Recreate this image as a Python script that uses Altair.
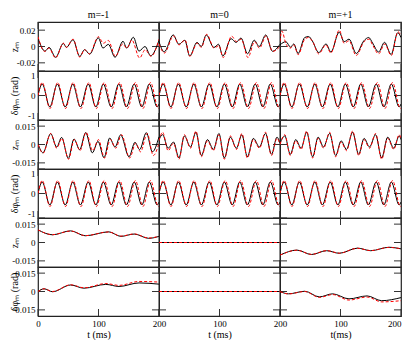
import altair as alt
import pandas as pd

# ---------------- data ----------------
col_titles = ["m=-1", "m=0", "m=+1"]
x_titles = ["t (ms)", "t (ms)", "t(ms)"]

# Row 1 : z_m
z1_c1_bt = [0, 11.6, 18.2, 29.2, 41.9, 46.8, 57.9, 68.9, 77.1, 85.4, 99.7, 107.4, 116.3, 127.3, 140.5, 146.6, 157.6, 166.9, 176.9, 186.2, 200]
z1_c1_bv = [0.0102, -0.0057, -0.0011, -0.0132, 0.0038, -0.0011, 0.0083, -0.0121, -0.0038, -0.0094, 0.0106, -0.0019, 0.0026, -0.0132, 0.0064, -0.0019, 0.0113, -0.0057, 0.0, -0.0113, 0.0075]
z1_c1_rt = [0, 11, 18, 29, 42, 47, 58, 69, 77, 85, 100, 108, 116, 128, 140, 147, 155, 168, 177, 187, 200]
z1_c1_rv = [0.012, -0.006, -0.002, -0.014, 0.004, -0.001, 0.009, -0.013, -0.004, -0.009, 0.012, 0.004, 0.0075, -0.012, 0.003, -0.002, 0.008, -0.014, -0.004, -0.012, 0.009]

z1_c2_bt = [0, 8.7, 23.5, 32.8, 42.6, 50.8, 62.8, 70.0, 78.1, 90.7, 98.4, 105.5, 119.1, 127.3, 135.5, 146.4, 157.4, 165.6, 176.5, 187.4, 200]
z1_c2_bv = [0.0058, -0.0065, 0.0142, 0.0027, 0.0077, -0.0116, 0.005, 0.0, 0.0142, -0.0012, 0.0027, -0.0116, 0.0096, 0.005, 0.0104, -0.0089, 0.0077, 0.0, 0.0142, -0.0058, 0.0027]
z1_c2_rt = [0, 9, 24, 33, 43, 51, 63, 70, 79, 91, 99, 106, 120, 128, 136, 147, 158, 166, 177, 188, 200]
z1_c2_rv = [0.003, -0.008, 0.013, 0.002, 0.008, -0.012, 0.004, -0.001, 0.015, -0.002, 0.001, -0.0135, 0.0127, 0.006, 0.009, -0.0135, 0.006, -0.002, 0.013, -0.006, 0.0]

z1_c3_bt = [0, 9.8, 17.4, 22.8, 29.9, 40.8, 47.3, 53.3, 64.1, 76.1, 84.2, 97.8, 106, 114.1, 126.1, 138.6, 146.7, 153, 163, 172.8, 183.7, 194.6, 200]
z1_c3_bv = [0.002, 0.0059, -0.0008, 0.0031, -0.0086, 0.011, 0.0122, 0.007, -0.0074, 0.0031, -0.0067, 0.0176, 0.0059, 0.009, -0.0086, 0.007, 0.011, 0.0043, -0.0067, 0.0051, -0.0098, 0.0169, 0.011]
z1_c3_rt = [0, 3, 10, 17, 23, 30, 41, 47, 54, 64, 76, 84, 98, 106, 114, 126, 139, 147, 153, 163, 173, 184, 195, 200]
z1_c3_rv = [0.006, 0.019, 0.003, -0.002, 0.002, -0.01, 0.009, 0.011, 0.006, -0.009, 0.002, -0.008, 0.02, 0.004, 0.007, -0.011, 0.006, 0.009, 0.002, -0.009, 0.003, -0.011, 0.018, 0.013]

# Rows 2 and 4 : delta phi_m (rad)
phi_bt = [0, 7, 19.5, 32, 45, 57.5, 70, 83, 95.5, 108, 121, 133.5, 146, 159, 171.5, 184, 197, 200]
phi_bv = [0, 0.47, -0.47, 0.47, -0.47, 0.47, -0.47, 0.47, -0.47, 0.47, -0.47, 0.47, -0.47, 0.47, -0.47, 0.47, -0.47, -0.35]
phi_rt = [0, 7, 19.8, 32.5, 45.5, 58, 71, 84, 96.5, 109.5, 122.5, 135, 148, 161, 173.5, 186, 199, 200]
phi_rv = [0, 0.53, -0.53, 0.53, -0.53, 0.53, -0.53, 0.53, -0.53, 0.53, -0.53, 0.53, -0.53, 0.53, -0.53, 0.53, -0.53, -0.5]

# Row 3 : z_m
z3_c1_bt = [0, 8.3, 20.9, 30.9, 39.1, 50.1, 59.5, 68.9, 78.8, 89.8, 99.2, 109.1, 118.5, 127.3, 136.6, 150.4, 160.3, 168, 179.1, 189, 200]
z3_c1_bv = [0.0005, -0.0068, 0.0089, -0.0021, 0.0058, -0.0113, 0.0045, -0.0042, 0.0097, -0.0068, 0.0026, -0.0108, 0.0053, -0.0021, 0.0079, -0.01, 0.0018, -0.0042, 0.0097, -0.006, 0.0063]
z3_c1_rt = [0, 8.5, 21, 31, 39.5, 50.5, 60, 69.5, 79.5, 90.5, 100, 110, 119.5, 128.5, 138, 151.5, 161.5, 169.5, 180.5, 190.5, 200]
z3_c1_rv = [0, -0.007, 0.009, -0.003, 0.005, -0.012, 0.004, -0.005, 0.01, -0.005, 0.004, -0.011, 0.004, -0.003, 0.008, -0.011, 0.001, -0.006, 0.009, -0.009, 0.001]

z3_c2_bt = [0, 6, 15, 24, 33, 42, 52, 61, 70, 80, 90, 99, 108, 118, 128, 137, 146, 156, 166, 176, 186, 195, 200]
z3_c2_bv = [0.004, 0.008, -0.003, 0.002, -0.011, 0.007, -0.002, 0.01, -0.009, 0.004, -0.004, 0.009, -0.011, 0.006, -0.003, 0.008, -0.01, 0.005, -0.002, 0.009, -0.008, 0.006, 0.001]
z3_c2_rt = [0, 6, 15, 24, 33, 42, 52, 61, 70, 80, 90, 99, 108, 118, 128, 137, 146, 156, 166, 176, 186, 195, 200]
z3_c2_rv = [0.003, 0.01, -0.005, 0.001, -0.012, 0.008, -0.003, 0.011, -0.01, 0.003, -0.005, 0.008, -0.012, 0.007, -0.004, 0.009, -0.011, 0.004, -0.003, 0.01, -0.009, 0.005, 0.0]

z3_c3_bt = [0, 8, 17, 26, 35, 44, 54, 63, 72, 82, 92, 101, 110, 120, 130, 139, 148, 158, 168, 178, 188, 197, 200]
z3_c3_bv = [0.001, 0.007, -0.008, 0.004, -0.003, 0.01, -0.01, 0.006, -0.002, 0.009, -0.009, 0.003, -0.004, 0.01, -0.008, 0.005, -0.002, 0.008, -0.011, 0.006, -0.003, 0.007, 0.004]
z3_c3_rt = [0, 8, 17, 26, 35, 44, 54, 63, 72, 82, 92, 101, 110, 120, 130, 139, 148, 158, 168, 178, 188, 197, 200]
z3_c3_rv = [0.0, 0.008, -0.009, 0.003, -0.004, 0.011, -0.011, 0.005, -0.003, 0.01, -0.01, 0.002, -0.005, 0.011, -0.009, 0.004, -0.003, 0.009, -0.012, 0.005, -0.004, 0.008, 0.005]

# Row 5 : z_m (slow)
z5_c1_bt = [0, 24, 54, 78, 117, 137, 159, 183, 200]
z5_c1_bv = [0.0103, 0.0063, 0.0095, 0.0055, 0.0087, 0.005, 0.0069, 0.0034, 0.005]
z5_c1_rv = [0.0103, 0.0064, 0.0094, 0.0056, 0.0086, 0.0052, 0.007, 0.0036, 0.0051]
z5_c2_t = [0, 200]
z5_c2_v = [0, 0]
z5_c3_bt = [0, 28, 52, 77, 98, 128, 150, 180, 200]
z5_c3_bv = [-0.0103, -0.0062, -0.0098, -0.0067, -0.0088, -0.0046, -0.0067, -0.0039, -0.0052]
z5_c3_rv = [-0.0103, -0.0063, -0.0097, -0.0066, -0.0087, -0.0047, -0.0066, -0.004, -0.0051]

# Row 6 : delta phi_m (rad) (slow)
p6_c1_bt = [0, 10, 24, 54, 76, 112, 134, 167, 200]
p6_c1_bv = [0, 0.0022, -0.0002, 0.0053, 0.0027, 0.0058, 0.0041, 0.007, 0.006]
p6_c1_rv = [0, 0.0022, 0.0, 0.0055, 0.003, 0.0065, 0.005, 0.0082, 0.0077]
p6_c2_t = [0, 200]
p6_c2_v = [0, 0]
p6_c3_bt = [0, 14, 41, 65, 87, 114, 144, 168, 200]
p6_c3_bv = [0, -0.0019, 0.0002, -0.0044, -0.0019, -0.006, -0.0036, -0.0075, -0.005]
p6_c3_rv = [0, -0.002, 0.0, -0.0048, -0.0025, -0.007, -0.0045, -0.0085, -0.0075]

row_titles = ["zₘ", "δφₘ (rad)", "zₘ", "δφₘ (rad)", "zₘ", "δφₘ (rad)"]
row_domains = [[-0.03, 0.03], [-1, 1], [-0.02, 0.02], [-1, 1], [-0.02, 0.02], [-0.02, 0.02]]
row_ticks = [[-0.02, 0, 0.02], [-1, 0, 1], [-0.015, 0, 0.015], [-1, 0, 1], [-0.015, 0, 0.015], [-0.015, 0, 0.015]]
t_ticks = [0, 100, 200]

panels = [
    [(z1_c1_bt, z1_c1_bv, z1_c1_rt, z1_c1_rv), (z1_c2_bt, z1_c2_bv, z1_c2_rt, z1_c2_rv), (z1_c3_bt, z1_c3_bv, z1_c3_rt, z1_c3_rv)],
    [(phi_bt, phi_bv, phi_rt, phi_rv)] * 3,
    [(z3_c1_bt, z3_c1_bv, z3_c1_rt, z3_c1_rv), (z3_c2_bt, z3_c2_bv, z3_c2_rt, z3_c2_rv), (z3_c3_bt, z3_c3_bv, z3_c3_rt, z3_c3_rv)],
    [(phi_bt, phi_bv, phi_rt, phi_rv)] * 3,
    [(z5_c1_bt, z5_c1_bv, z5_c1_bt, z5_c1_rv), (z5_c2_t, z5_c2_v, z5_c2_t, z5_c2_v), (z5_c3_bt, z5_c3_bv, z5_c3_bt, z5_c3_rv)],
    [(p6_c1_bt, p6_c1_bv, p6_c1_bt, p6_c1_rv), (p6_c2_t, p6_c2_v, p6_c2_t, p6_c2_v), (p6_c3_bt, p6_c3_bv, p6_c3_bt, p6_c3_rv)],
]

# ---------------- chart ----------------
W, H = 121, 49
TICK = 7
FONT = "Liberation Serif, Times New Roman, serif"
TICK_COLOR = "#333333"


def panel(r, c):
    bt, bv, rt, rv = panels[r][c]
    last = r == len(panels) - 1
    if last:
        xaxis = alt.Axis(values=t_ticks if c == 0 else t_ticks[1:], ticks=False, domain=False, grid=False,
                         title=x_titles[c], labelPadding=3, titlePadding=1, labelFlush=(c == 2),
                         labelOverlap=False)
    else:
        xaxis = None
    if c == 0:
        yaxis = alt.Axis(values=row_ticks[r], ticks=False, domain=False, grid=False,
                         title=row_titles[r], labelPadding=3, labelFlush=True, labelOverlap=False,
                         labelExpr="toString(datum.value)",
                         titleX=-19, titleY=H / 2, titleAngle=270, titleAlign="center",
                         titleBaseline="bottom")
    else:
        yaxis = None
    xe = alt.X("t:Q", scale=alt.Scale(domain=[0, 200], nice=False, zero=False), axis=xaxis)
    ye = alt.Y("v:Q", scale=alt.Scale(domain=row_domains[r], nice=False, zero=False), axis=yaxis)

    dfb = pd.DataFrame({"t": bt, "v": bv})
    dfr = pd.DataFrame({"t": rt, "v": rv})
    black = alt.Chart(dfb).mark_line(color="black", strokeWidth=1, interpolate="monotone", clip=True).encode(x=xe, y=ye)
    red = alt.Chart(dfr).mark_line(color="#ff0000", strokeWidth=1, strokeDash=[3, 2], interpolate="monotone", clip=True).encode(x=xe, y=ye)

    dy = pd.DataFrame({"v": row_ticks[r]})
    dx = pd.DataFrame({"t": t_ticks})
    ytl = alt.Chart(dy).mark_rule(color=TICK_COLOR, strokeWidth=1).encode(y=ye, x=alt.value(0), x2=alt.value(TICK))
    ytr = alt.Chart(dy).mark_rule(color=TICK_COLOR, strokeWidth=1).encode(y=ye, x=alt.value(W - TICK), x2=alt.value(W))
    xtt = alt.Chart(dx).mark_rule(color=TICK_COLOR, strokeWidth=1).encode(x=xe, y=alt.value(0), y2=alt.value(TICK))
    xtb = alt.Chart(dx).mark_rule(color=TICK_COLOR, strokeWidth=1).encode(x=xe, y=alt.value(H - TICK), y2=alt.value(H))

    layer = alt.layer(ytl, ytr, xtt, xtb, black, red).properties(width=W, height=H)
    if r == 0:
        layer = layer.properties(title=alt.TitleParams(col_titles[c], fontSize=10, offset=2, font=FONT,
                                                       fontWeight="normal", anchor="middle"))
    return layer


cells = [panel(r, c) for r in range(6) for c in range(3)]

chart = alt.concat(*cells, columns=3, spacing=0, align="all", bounds="flush").properties(
    padding={"left": 0, "top": 0, "right": 0, "bottom": 0}
).configure_view(
    stroke="#222222", strokeWidth=1.2
).configure_axis(
    labelFont=FONT, titleFont=FONT, labelFontSize=9, titleFontSize=10,
    labelColor="black", titleColor="black", titleFontWeight="normal"
).configure_title(font=FONT, color="black")

chart.save("out.html", embed_options={"renderer": "svg", "actions": False})
